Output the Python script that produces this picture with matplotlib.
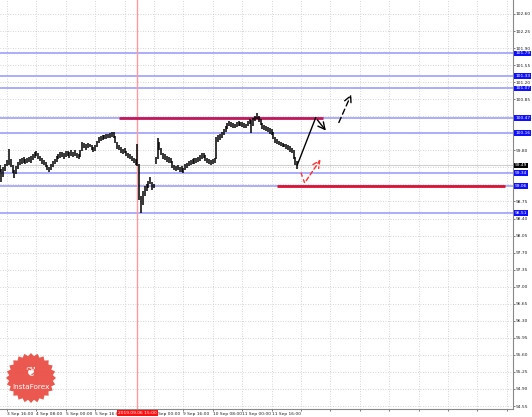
import numpy as np
import matplotlib
matplotlib.use("Agg")
import matplotlib.pyplot as plt
from matplotlib.patches import Polygon
from matplotlib.transforms import blended_transform_factory

# ── Data ──────────────────────────────────────────────────────────────────────
# hourly bars, bar 0 = 3 Sep 16:00 (weekend removed)
bar_low = [
    99.36, 99.14, 99.25, 99.38, 99.48, 99.50, 99.45, 99.34, 99.24, 99.32,
    99.42, 99.50, 99.52, 99.55, 99.52, 99.54, 99.56, 99.55, 99.60, 99.64,
    99.68, 99.62, 99.58, 99.52, 99.50, 99.45, 99.40, 99.36, 99.40, 99.46,
    99.52, 99.56, 99.62, 99.64, 99.66, 99.62, 99.66, 99.68, 99.64, 99.68,
    99.66, 99.68, 99.64, 99.62, 99.66, 99.78, 99.84, 99.80, 99.84, 99.86,
    99.80, 99.76, 99.78, 99.86, 99.96, 100.00, 100.02, 100.04, 100.04, 100.06,
    100.06, 100.08, 100.06, 99.96, 99.82, 99.80, 99.74, 99.72, 99.74, 99.68,
    99.64, 99.62, 99.58, 99.54, 99.50, 99.48, 98.78, 98.52, 98.68, 98.86,
    98.96, 99.02, 99.10, 98.98, 99.02, 99.52, 99.62, 99.80, 99.70, 99.62,
    99.60, 99.56, 99.54, 99.54, 99.44, 99.40, 99.38, 99.40, 99.36, 99.36,
    99.34, 99.40, 99.44, 99.48, 99.50, 99.52, 99.52, 99.54, 99.56, 99.58,
    99.62, 99.64, 99.58, 99.54, 99.52, 99.50, 99.52, 99.54, 99.62, 99.98,
    100.02, 100.06, 100.12, 100.18, 100.24, 100.30, 100.28, 100.26, 100.26, 100.28,
    100.30, 100.30, 100.28, 100.26, 100.26, 100.30, 100.34, 100.16, 100.30, 100.40,
    100.44, 100.38, 100.32, 100.24, 100.22, 100.20, 100.18, 100.14, 100.12, 100.04,
    99.96, 99.94, 99.90, 99.88, 99.86, 99.86, 99.82, 99.80, 99.76, 99.74,
    99.62, 99.50, 99.42,
]
bar_high = [
    99.50, 99.42, 99.45, 99.52, 99.60, 99.82, 99.62, 99.50, 99.40, 99.48,
    99.56, 99.62, 99.64, 99.66, 99.62, 99.65, 99.66, 99.68, 99.72, 99.76,
    99.78, 99.74, 99.68, 99.64, 99.60, 99.56, 99.50, 99.46, 99.52, 99.58,
    99.62, 99.68, 99.72, 99.76, 99.76, 99.74, 99.78, 99.78, 99.76, 99.80,
    99.76, 99.80, 99.74, 99.72, 99.80, 99.98, 99.96, 99.92, 99.96, 99.94,
    99.90, 99.86, 99.90, 100.00, 100.08, 100.10, 100.12, 100.12, 100.14, 100.14,
    100.16, 100.18, 100.17, 100.10, 99.98, 99.90, 99.86, 99.82, 99.84, 99.78,
    99.74, 99.72, 99.68, 99.64, 99.62, 99.92, 99.52, 98.86, 98.96, 99.06,
    99.10, 99.18, 99.26, 99.14, 99.10, 99.66, 100.06, 99.98, 99.84, 99.74,
    99.72, 99.68, 99.66, 99.64, 99.58, 99.50, 99.48, 99.50, 99.46, 99.48,
    99.44, 99.52, 99.54, 99.58, 99.60, 99.62, 99.64, 99.64, 99.66, 99.70,
    99.74, 99.74, 99.70, 99.64, 99.62, 99.60, 99.62, 99.64, 100.08, 100.12,
    100.14, 100.18, 100.24, 100.30, 100.36, 100.40, 100.38, 100.36, 100.34, 100.38,
    100.40, 100.38, 100.38, 100.36, 100.34, 100.40, 100.44, 100.42, 100.46, 100.50,
    100.56, 100.50, 100.44, 100.36, 100.32, 100.30, 100.28, 100.26, 100.24, 100.18,
    100.08, 100.04, 100.00, 99.98, 99.96, 99.94, 99.94, 99.90, 99.88, 99.84,
    99.80, 99.66, 99.58,
]
bar_x = np.arange(-4, -4 + len(bar_low))

current_price = 99.49
blue_levels = [101.79, 101.33, 101.07, 100.47, 100.16, 99.34, 99.06, 98.51]
red_levels = [(100.47, 61, 172), (99.06, 147, 271)]   # price, from bar, to bar
event_bar = 71
event_label = "2019.09.06 15:00"

y_ticks = [102.60, 102.25, 101.90, 101.55, 101.20, 100.85, 100.50, 100.15,
           99.80, 99.45, 99.10, 98.75, 98.40, 98.05, 97.70, 97.35, 97.00,
           96.65, 96.30, 95.95, 95.60, 95.25, 94.90, 94.55]
# ticks hidden behind the level labels in the reference
y_hidden = [100.50, 100.15, 99.45, 99.10]
x_tick_bars = list(range(0, 276, 16))
x_tick_labels = ["3 Sep 16:00", "4 Sep 08:00", "5 Sep 00:00", "5 Sep 16:00", "",
                 "9 Sep 00:00", "9 Sep 16:00", "10 Sep 08:00", "11 Sep 00:00",
                 "11 Sep 16:00"]

# forecast arrows (bar, price)
black_path = [(158, 99.50), (168, 100.47), (174.5, 100.16)]
black_dash = [(180, 100.32), (188, 101.00)]
red_path = [(160, 99.34), (162, 99.13), (171.5, 99.66)]

# ── Figure ────────────────────────────────────────────────────────────────────
W, H = 532, 417
fig = plt.figure(figsize=(W / 100, H / 100), dpi=100)
fig.patch.set_facecolor("white")
ax = fig.add_axes([0, 8 / H, 513 / W, 409 / H])
ax.set_xlim(-3.81, 275.4)
ax.set_ylim(94.489, 102.887)

ax.set_yticks(y_ticks)
ax.set_yticklabels(["" if v in y_hidden else f"{v:.2f}" for v in y_ticks])
ax.yaxis.tick_right()
ax.set_xticks(x_tick_bars)
ax.set_xticklabels(x_tick_labels + [""] * (len(x_tick_bars) - len(x_tick_labels)))
for lab in ax.get_xticklabels():
    lab.set_ha("left")
ax.tick_params(axis="both", labelsize=3.2, length=1.5, width=0.5, pad=0.6,
               colors="#444444", labelcolor="#222222")
for side in ["left", "top"]:
    ax.spines[side].set_visible(False)
for side in ["right", "bottom"]:
    ax.spines[side].set_color("#888888")
    ax.spines[side].set_linewidth(0.8)
ax.grid(True, color="#c8c8c8", linestyle=(0, (1, 2)), linewidth=0.6)
ax.set_axisbelow(True)

# levels
for lv in blue_levels:
    ax.axhline(lv, color="#a6a6ff", lw=1.3, zorder=2)
ax.axhline(current_price, color="#d0d0d0", lw=0.8, zorder=2)
ax.axvline(event_bar, color="#ff9a9a", lw=1.0, zorder=2)
red_cols = ["#c2185b", "#dd1133"]
for (lv, b0, b1), c in zip(red_levels, red_cols):
    ax.plot([b0, b1], [lv, lv], color=c, lw=2.0, solid_capstyle="butt", zorder=3)

# price bars
ax.vlines(bar_x, bar_low, bar_high, color="black", lw=1.1, zorder=4)

# forecast arrows
bx, by = zip(*black_path)
ax.plot(bx[:2], by[:2], color="black", lw=1.0, zorder=5)
ax.annotate("", xy=black_path[2], xytext=black_path[1],
            arrowprops=dict(arrowstyle="->,head_length=0.5,head_width=0.25",
                            color="black", lw=1.0), zorder=5)
ax.annotate("", xy=black_dash[1], xytext=black_dash[0],
            arrowprops=dict(arrowstyle="->,head_length=0.5,head_width=0.25",
                            color="black", lw=1.0, linestyle=(0, (4, 2.5))), zorder=5)
rx, ry = zip(*red_path)
ax.plot(rx[:2], ry[:2], color="#ff3030", lw=1.0, ls=(0, (3, 2)), zorder=5)
ax.annotate("", xy=red_path[2], xytext=red_path[1],
            arrowprops=dict(arrowstyle="->,head_length=0.5,head_width=0.25",
                            color="#ff3030", lw=1.0, linestyle=(0, (3, 2))), zorder=5)

# price labels on the right axis
tr = blended_transform_factory(ax.transAxes, ax.transData)
for lv in blue_levels:
    ax.text(1.004, lv, f"{lv:.2f}", transform=tr, fontsize=3.2, color="white",
            va="center", ha="left", clip_on=False, zorder=10,
            bbox=dict(boxstyle="square,pad=0.2", fc="#1010ff", ec="none"))
ax.text(1.004, current_price, f"{current_price:.2f}", transform=tr, fontsize=3.2,
        color="white", va="center", ha="left", clip_on=False, zorder=10,
        bbox=dict(boxstyle="square,pad=0.2", fc="black", ec="none"))

# event time label on the x axis
trx = blended_transform_factory(ax.transData, ax.transAxes)
ax.text(event_bar, -0.004, event_label, transform=trx, fontsize=3.2, color="white",
        va="top", ha="center", clip_on=False, zorder=10,
        bbox=dict(boxstyle="square,pad=0.2", fc="#ff1010", ec="none"))

# InstaForex badge
cx, cy, r_out, r_in, n = 31, 417 - 378, 25, 22, 24
ang = np.linspace(0, 2 * np.pi, 2 * n, endpoint=False)
rad = np.where(np.arange(2 * n) % 2 == 0, r_out, r_in)
pts = np.column_stack([(cx + rad * np.cos(ang)) / W, (cy + rad * np.sin(ang)) / H])
fig.patches.append(Polygon(pts, closed=True, transform=fig.transFigure,
                           fc="#e8463c", ec="none", alpha=0.9, zorder=20))
fig.text(cx / W, (cy - 9) / H, "InstaForex", color="white", fontsize=5.2,
         ha="center", va="center", zorder=21)
fig.text(cx / W, (cy + 5) / H, "\u2766", color="white", fontsize=9,
         ha="center", va="center", zorder=21)

fig.savefig("out.png", dpi=100)
